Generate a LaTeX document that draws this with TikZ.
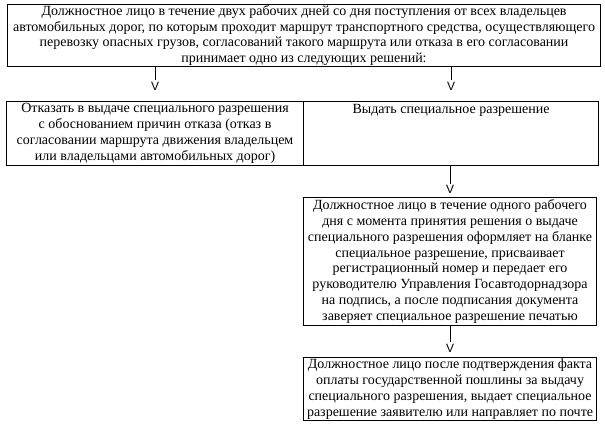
\documentclass[tikz,border=0pt]{standalone}
\usepackage{fontspec}
\setmainfont{Liberation Serif}
\newfontfamily\tipfont{Liberation Sans}
\usetikzlibrary{positioning}
\tikzset{
  box/.style={draw,line width=1.1pt,inner sep=0pt,align=center,anchor=north west,
              font=\fontsize{14}{15.8}\selectfont},
  vtip/.style={font=\tipfont\fontsize{12}{12}\selectfont,inner sep=0pt,outer sep=1.5pt},
  conn/.style={line width=1.1pt},
}

\begin{document}
\begin{tikzpicture}[x=1pt,y=-1pt]
  \useasboundingbox (0,0) rectangle (605,429);
  % boxes
  \node[box,minimum width=593pt,minimum height=62pt,font=\fontsize{14}{15.4}\selectfont] (decide) at (7,4)
    {Должностное лицо в течение двух рабочих дней со дня поступления от всех владельцев\\
     автомобильных дорог, по которым проходит маршрут транспортного средства, осуществляющего\\
     перевозку опасных грузов, согласований такого маршрута или отказа в его согласовании\\
     принимает одно из следующих решений:};
  \node[box,minimum width=297pt,minimum height=64pt] (refuse) at (6,101)
    {Отказать в выдаче специального разрешения\\
     с обоснованием причин отказа (отказ в\\
     согласовании маршрута движения владельцем\\
     или владельцами автомобильных дорог)};
  \node[box,minimum width=295pt,minimum height=64pt,
        label={[font=\fontsize{14}{15.8}\selectfont,anchor=north,inner sep=0pt,yshift=-3pt]north:Выдать специальное разрешение}]
    (issue) at (303,101) {};
  \node[box,minimum width=293pt,minimum height=128pt] (sign) at (303,197)
    {Должностное лицо в течение одного рабочего\\
     дня с момента принятия решения о выдаче\\
     специального разрешения оформляет на бланке\\
     специальное разрешение, присваивает\\
     регистрационный номер и передает его\\
     руководителю Управления Госавтодорнадзора\\
     на подпись, а после подписания документа\\
     заверяет специальное разрешение печатью};
  \node[box,minimum width=293pt,minimum height=63pt] (send) at (303,357)
    {Должностное лицо после подтверждения факта\\
     оплаты государственной пошлины за выдачу\\
     специального разрешения, выдает специальное\\
     разрешение заявителю или направляет по почте};

  % arrow heads
  \node[vtip] (tipL) at (refuse.north |- 0,86) {V};
  \node[vtip] (tipR) at (issue.north |- 0,86) {V};
  \node[vtip] (tipS) at (sign.north |- 0,189.5) {V};
  \node[vtip] (tipP) at (send.north |- 0,348) {V};

  % connectors
  \draw[conn] (decide.south -| tipL) -- (tipL.north);
  \draw[conn] (decide.south -| tipR) -- (tipR.north);
  \draw[conn] (issue.south -| tipS) -- (tipS.north);
  \draw[conn] (sign.south) -- (tipP.north);
\end{tikzpicture}
\end{document}
